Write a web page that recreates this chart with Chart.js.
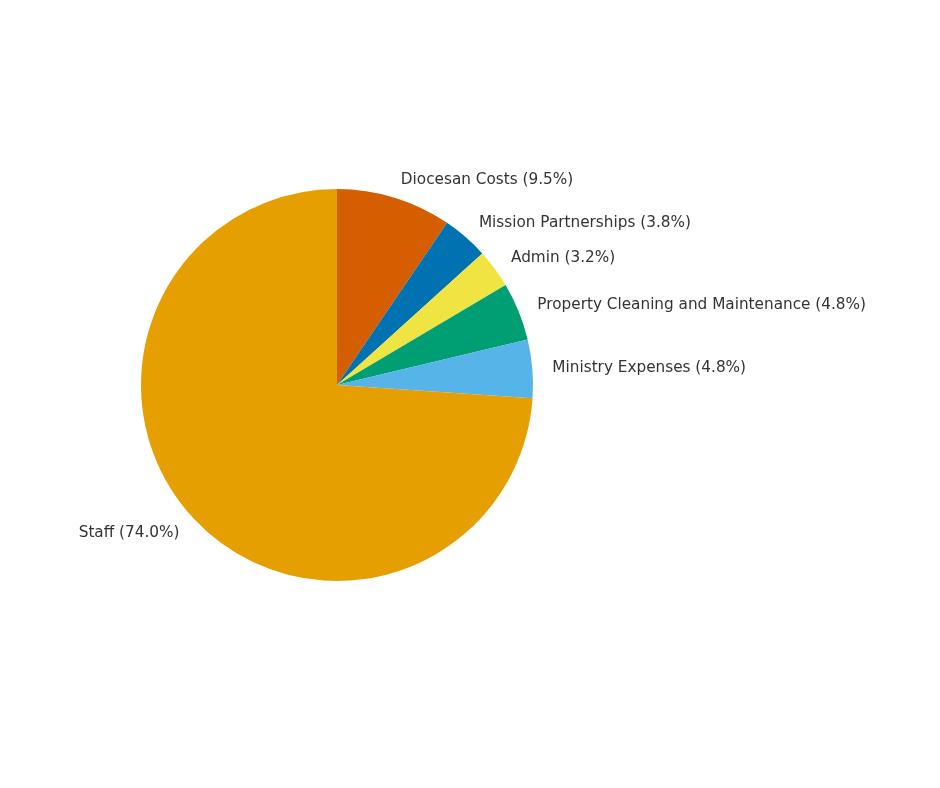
<!DOCTYPE html>
<html>
<head>
<meta charset="utf-8">
<script src="https://cdn.jsdelivr.net/npm/chart.js@4/dist/chart.umd.min.js"></script>
<style>
html,body{margin:0;padding:0;background:#fff;}
#wrap{width:940px;height:788px;}
</style>
</head>
<body>
<div id="wrap"><canvas id="c" width="940" height="788"></canvas></div>
<script>
const categories = ["Diocesan Costs","Mission Partnerships","Admin","Property Cleaning and Maintenance","Ministry Expenses","Staff"];
const shares = [9.5, 3.8, 3.2, 4.8, 4.8, 74.0];
const colors = ["#D55E00","#0072B2","#F0E442","#009E73","#56B4E9","#E69F00"];

const outsideLabels = {
  id: 'outsideLabels',
  afterDatasetsDraw(chart) {
    const ctx = chart.ctx;
    const meta = chart.getDatasetMeta(0);
    ctx.save();
    ctx.font = '15.28px "DejaVu Sans", sans-serif';
    ctx.fillStyle = '#333333';
    ctx.textBaseline = 'middle';
    meta.data.forEach((arc, i) => {
      const p = arc.getProps(['x','y','startAngle','endAngle','outerRadius'], true);
      const mid = (p.startAngle + p.endAngle) / 2;
      const r = p.outerRadius * 1.1;
      const x = p.x + Math.cos(mid) * r;
      const y = p.y + Math.sin(mid) * r + 1;
      ctx.textAlign = x >= p.x ? 'left' : 'right';
      ctx.fillText(categories[i] + ' (' + shares[i].toFixed(1) + '%)', x + (x >= p.x ? 0.5 : 0), y);
    });
    ctx.restore();
  }
};

new Chart(document.getElementById('c'), {
  type: 'pie',
  data: {
    labels: categories,
    datasets: [{ data: shares, backgroundColor: colors, borderWidth: 0 }]
  },
  options: {
    responsive: false,
    devicePixelRatio: 1,
    animation: false,
    layout: { padding: { left: 141, right: 407, top: 189, bottom: 207 } },
    plugins: { legend: { display: false }, tooltip: { enabled: false } }
  },
  plugins: [outsideLabels]
});
</script>
</body>
</html>
